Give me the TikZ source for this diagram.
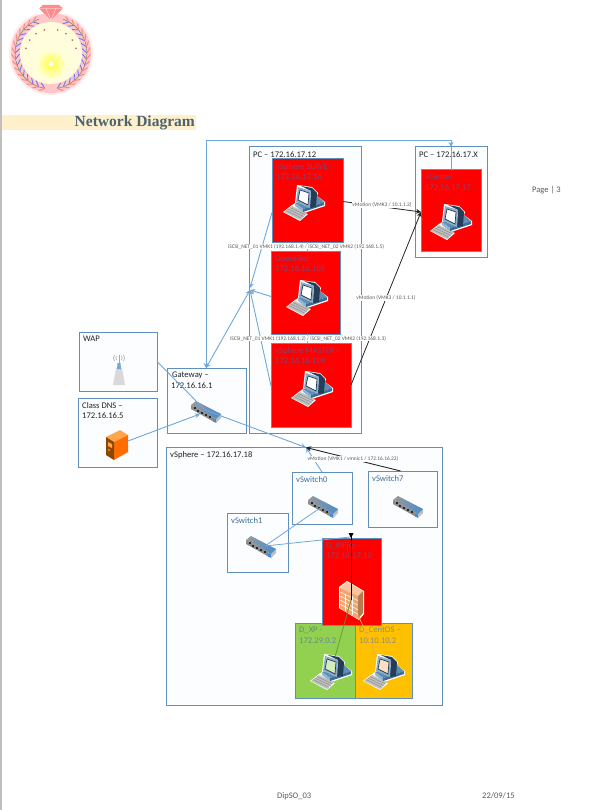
\documentclass[tikz,border=0pt]{standalone}
\usepackage{fontspec}
\setmainfont{Carlito}
\newfontfamily\titlefont{Liberation Serif}
\usetikzlibrary{arrows.meta,shapes.geometric}
\definecolor{edgeblue}{HTML}{5F8FBA}
\definecolor{linkblue}{HTML}{6FA8DC}
\definecolor{boxtext}{HTML}{3F6E9E}
\definecolor{redtext}{HTML}{8A4070}
\definecolor{xptext}{HTML}{5F8F80}
\definecolor{cotext}{HTML}{8F8F6A}
\definecolor{darktext}{HTML}{222222}
\definecolor{titlecol}{HTML}{4A6272}
\definecolor{hilite}{HTML}{FFF0CC}
\definecolor{xpgreen}{HTML}{92D050}
\definecolor{coamber}{HTML}{FFC000}
\definecolor{softfill}{HTML}{FCFDFF}
\definecolor{HTML5}{HTML}{5D8DB5}
\definecolor{HTML6}{HTML}{8FB4D0}
\definecolor{HTML7}{HTML}{3D6C94}
\definecolor{HTML8}{HTML}{243E58}
\definecolor{HTML9}{HTML}{4A8CCB}
\definecolor{HTML10}{HTML}{F2A56C}
\tikzset{
  x=1pt,y=-1pt,
  basebox/.style={draw=edgeblue,line width=1pt,rectangle,inner sep=0pt,outer sep=0pt,anchor=north west},
  whitebox/.style={basebox,fill=softfill},
  redbox/.style={basebox,fill=red},
  greenbox/.style={basebox,fill=xpgreen},
  amberbox/.style={basebox,fill=coamber},
  boxlabel/.style={anchor=north west,inner sep=0pt,align=left,font=\fontsize{8.6}{10.6}\selectfont},
  linklabel/.style={font=\fontsize{5.45}{6}\selectfont,text=black!65,fill=white,inner sep=0.4pt},
  pagetext/.style={font=\fontsize{8.5}{10}\selectfont,text=black!65,inner sep=0pt},
  bluelink/.style={draw=linkblue,line width=0.9pt},
  blacklink/.style={draw=black!85,line width=0.8pt},
  orangelink/.style={draw=orange!80!white,line width=0.6pt},
  tipb/.style={-{Stealth[length=5pt,width=5pt]}},
  tipbb/.style={{Stealth[length=5pt,width=5pt]}-{Stealth[length=5pt,width=5pt]}},
  pics/computer/.style={code={
    \fill[white] (-21,9)--(-12,2)--(-9,0)--(-7,-18)--(8,-16)--(14,-10)--(13,-7)--(21,-1)--(21,3)--(0,10)--(4,11)--(-4,18)--cycle;
    \fill[black!25] (-20,9)--(-12,3)--(3,10)--(-4,17)--cycle;
    \foreach \k in {0.25,0.5,0.75}{\draw[black!50,line width=.35pt] (-20+8*\k,9-6*\k)--(-4+7*\k,17-7*\k);}
    \fill[HTML5] (-9,0)--(-1,6)--(20,-1)--(13,-7)--cycle;
    \fill[HTML6] (-9,0)--(-9,3)--(-1,9)--(-1,6)--cycle;
    \fill[HTML7] (-1,6)--(-1,9)--(20,2)--(20,-1)--cycle;
    \fill[HTML8] (-3,-17)--(8,-15)--(13,-10)--(12,4)--(6,5)--(7,-12)--cycle;
    \fill[HTML5!70!white] (-6,-16)--(7,-12)--(6,5)--(-8,-1)--cycle;
    \fill[#1] (-4,-13)--(5,-10)--(4,2)--(-6,-3)--cycle;
    \draw[HTML8,line width=.7pt] (-4,-13)--(5,-10)--(4,2)--(-6,-3)--cycle;
  }},
  pics/netswitch/.style={code={
    \fill[white] (-16,-7)--(-10,-12)--(16,2)--(16,7)--(10,12)--(-16,-2)--cycle;
    \fill[black!45] (-15,-7)--(10,7)--(10,11)--(-15,-3)--cycle;
    \fill[black!25] (10,7)--(15,2)--(15,6)--(10,11)--cycle;
    \shade[left color=black!40,right color=HTML9] (-15,-7)--(-10,-11)--(15,2)--(10,7)--cycle;
    \foreach \k in {0.1,0.25,0.4,0.55,0.7}{\fill[black!85] (-15+25*\k,-6+14*\k) rectangle ++(2,2);}
    \fill[HTML9] (7,7) rectangle (9.5,10);
  }},
  pics/wapicon/.style={code={
    \fill[black!15] (-3,2)--(3,2)--(6,19)--(-6,19)--cycle;
    \fill[linkblue] (-1.5,-3)--(1.5,-3)--(2,3)--(-2,3)--cycle;
    \draw[black!35,line width=.6pt] (0,-11)--(0,-3);
    \draw[black!35,line width=.6pt] (2.5,-10)--(3.2,-8)--(2.5,-6) (-2.5,-10)--(-3.2,-8)--(-2.5,-6);
    \draw[black!35,line width=.6pt] (4.5,-11)--(5.5,-8)--(4.5,-5) (-4.5,-11)--(-5.5,-8)--(-4.5,-5);
  }},
  pics/servericon/.style={code={
    \fill[white] (-12,-8)--(3,-16)--(12,-10)--(12,7)--(-3,16)--(-12,10)--cycle;
    \fill[orange!70!white] (-11,-8)--(3,-15)--(11,-10)--(-3,-3)--cycle;
    \fill[orange!85!red] (-3,-3)--(11,-10)--(11,7)--(-3,15)--cycle;
    \fill[orange!55!black] (-11,-8)--(-3,-3)--(-3,15)--(-11,10)--cycle;
    \fill[orange!70] (-9,-3)--(-5,-1)--(-5,3)--(-9,1)--cycle;
    \fill[orange!90] (-8,5) circle (1.2);
  }},
  pics/firewallicon/.style={code={
    \fill[white] (-12,-13)--(-4,-19)--(13,-9)--(13,14)--(8,20)--(-12,8)--cycle;
    \fill[HTML10!65!white] (-11,-12)--(-4,-18)--(12,-9)--(7,-4)--cycle;
    \fill[HTML10] (-11,-12)--(7,-4)--(7,19)--(-11,8)--cycle;
    \fill[HTML10!75!black] (7,-4)--(12,-9)--(12,13)--(7,19)--cycle;
    \foreach \k in {0.2,0.4,0.6,0.8}{\draw[white,line width=.5pt] (-11,-12+20*\k)--(7,-4+23*\k);}
    \draw[white,line width=.5pt] (-6,-6)--(-6,11) (1,-4)--(1,15);
  }},
}
\newcommand{\boxnode}[8]{%
  \node[#2,minimum width=#5pt,minimum height=#6pt] (#1) at (#3,#4) {};
  \node[boxlabel,text=#7] (#1text) at (#3+4,#4+4) {#8};
}
\begin{document}
\begin{tikzpicture}
\useasboundingbox (0,0) rectangle (591,810);
\fill[white] (0,0) rectangle (591,810);
\fill[black!25] (0,0) rectangle (1.5,810);

% logo
\fill[red!8!white] (51,53) circle (42);
\fill[red!22!white] (51,53) circle (40);
\fill[yellow!14!white] (51,53) circle (31);
\shade[inner color=yellow!75!white,outer color=yellow!14!white] (51,64) circle (15);
\fill[white] (51,64) circle (2.5);
\foreach \a in {-80,-70,...,60}{
  \draw[xpgreen!70!black,line width=.5pt] ({51+36*cos(\a)},{53+36*sin(-\a)}) -- ({51+36*cos(\a+10)},{53+36*sin(-\a-10)});
  \draw[xpgreen!70!black,line width=.5pt] ({51-36*cos(\a)},{53+36*sin(-\a)}) -- ({51-36*cos(\a+10)},{53+36*sin(-\a-10)});
  \draw[blue!55!white,line width=.9pt] ({51+36*cos(\a)},{53+36*sin(-\a)}) -- ({51+31.5*cos(\a+8)},{53+31.5*sin(-\a-8)});
  \draw[blue!55!white,line width=.9pt] ({51-36*cos(\a)},{53+36*sin(-\a)}) -- ({51-31.5*cos(\a+8)},{53+31.5*sin(-\a-8)});
  \draw[red!50!white,line width=.9pt] ({51+36*cos(\a)},{53+36*sin(-\a)}) -- ({51+39.5*cos(\a+8)},{53+39.5*sin(-\a-8)});
  \draw[red!50!white,line width=.9pt] ({51-36*cos(\a)},{53+36*sin(-\a)}) -- ({51-39.5*cos(\a+8)},{53+39.5*sin(-\a-8)});
}
\foreach \a in {15,35,55,75,105,125,145,165}{
  \fill[red!50!black!60] ({51+26*cos(\a)},{53-26*sin(\a)+2}) circle (.9);
}
\fill[white] (36,14) -- (66,14) -- (66,0) -- (36,0) -- cycle;
\fill[red!45!white] (39,8.5)--(43,5)--(59,5)--(63,8.5)--(51,20)--cycle;
\draw[white,line width=.3pt] (39,8.5)--(63,8.5) (46,8.5)--(51,20)--(56,8.5);

% title band
\fill[hilite] (2,115) rectangle (196,130);
\node[anchor=east,inner sep=0pt,text=titlecol,font=\titlefont\bfseries\fontsize{15.5}{17}\selectfont] (title) at (195,123) {Network Diagram};

% page texts
\node[pagetext,anchor=west] (pagenum) at (532,190) {Page | 3};
\node[pagetext,anchor=west] (docname) at (277,796) {DipSO\_03};
\node[pagetext,anchor=west] (docdate) at (482,796) {22/09/15};

% container boxes
\boxnode{pcmain}{whitebox}{249}{147}{112}{286}{darktext}{PC – 172.16.17.12}
\boxnode{pcx}{whitebox}{415}{147}{72}{110}{darktext}{PC – 172.16.17.X}
\boxnode{vsphere}{whitebox}{166}{447}{276}{258}{darktext}{vSphere – 172.16.17.18}
\boxnode{wap}{whitebox}{79}{332}{78}{59}{darktext}{WAP}
\boxnode{dns}{whitebox}{78}{398}{79}{69}{darktext}{Class DNS –\\172.16.16.5}
\boxnode{gateway}{whitebox}{167}{368}{79}{65}{darktext}{\hspace{1pt}Gateway –\\172.16.16.1}

% host boxes
\boxnode{slave}{redbox}{272}{159}{71}{83}{redtext}{vSphere SLAVE -\\172.16.17.16}
\boxnode{vcenter}{redbox}{421}{170}{60}{81}{redtext}{vCenter\\172.16.17.17}
\boxnode{openfiler}{redbox}{271}{251}{69}{83}{redtext}{OpenFiler\\172.16.16.105}
\boxnode{master}{redbox}{271}{343}{80}{84}{redtext}{vSphere MASTER -\\172.16.16.109}

% vSphere content
\boxnode{vsw0}{whitebox}{292}{472}{60}{52}{boxtext}{vSwitch0}
\boxnode{vsw7}{whitebox}{368}{471}{69}{56}{boxtext}{vSwitch7}
\boxnode{vsw1}{whitebox}{227}{513}{61}{59}{boxtext}{vSwitch1}
\boxnode{dxp}{greenbox}{295}{623}{60}{75}{xptext}{D\_XP -\\172.29.0.2}
\boxnode{dcent}{amberbox}{355}{623}{57}{75}{cotext}{D\_CentOS –\\10.10.10.2}
\boxnode{ipfire}{redbox}{322}{538}{59}{87}{redtext}{D\_IPFire –\\172.16.17.10}

% icons
\path (304,203) pic {computer=white};
\path (451,222) pic {computer=white};
\path (307,298) pic {computer=white};
\path (312,389) pic {computer=white};
\path (331,672) pic {computer=xpgreen!40!white};
\path (384,672) pic {computer=orange!25!white};
\path (206,412) pic {netswitch};
\path (323,507) pic {netswitch};
\path (408,507) pic {netswitch};
\path (261,547) pic {netswitch};
\path (119,366) pic {wapicon};
\path (117,445) pic {servericon};
\path (351,600) pic {firewallicon};

% named connector points
\coordinate (hub) at (250,290);
\coordinate (gwsw) at (205,410);
\coordinate (dnssw) at (200,414);
\coordinate (srvc) at (128,441);
\coordinate (vstop) at (306,447.5);
\coordinate (sw0c) at (320,508);
\coordinate (sw1c) at (265,546);
\coordinate (fwc) at (351,600);
\coordinate (fwlow) at (358,615);
\coordinate (fwtip) at (351,533);
\coordinate (ipf) at (350,537);
\coordinate (xpc) at (335,657);
\coordinate (cec) at (377,657);
\coordinate (vctip) at (421,212);
\coordinate (loopa) at (206,140);
\coordinate (loopb) at (451,140);

% connectors
\draw[bluelink,tipb] (gateway.north -| loopa) -- (loopa) -- (loopb) -- (loopb |- pcx.north);
\draw[bluelink,tipb] (loopa) -- (gateway.north -| loopa);
\draw[bluelink] (vcenter.north -| loopb) -- (loopb |- pcx.north);
\draw[bluelink,tipb] ([yshift=-12pt]slave.west) -- ([yshift=2pt]hub);
\draw[bluelink,tipb] ([yshift=-4pt]openfiler.west) -- (hub);
\draw[bluelink,tipb] ([yshift=-1pt]master.west) -- (hub);
\draw[bluelink,tipbb] (hub) -- (gateway.north -| loopa);
\draw[bluelink] (wap.east) -- (gwsw);
\draw[bluelink,tipb] (srvc) -- (dnssw);
\draw[bluelink,tipb] (gwsw) -- (vstop);
\draw[bluelink,tipb] (vsw0.north) -- (vstop);
\draw[bluelink,line width=.8pt] (sw1c) -- (sw0c);
\draw[bluelink,line width=.8pt] (sw1c) -- (ipf);
\draw[blacklink,tipb] ([yshift=-1pt]slave.east) -- (vctip);
\draw[blacklink,tipb] (master.east) -- (vctip);
\draw[blacklink,line width=.9pt,tipb] ([xshift=-2pt]vsw7.north) -- (vstop);
\draw[black,line width=.8pt] (fwc) -- (fwtip);
\fill[black] (fwtip)++(-2.5,0) -- ++(5,0) -- ++(-2.5,5) -- cycle;
\draw[xpgreen!70!black,line width=.7pt] (fwc) -- (xpc);
\draw[orange!70!white,line width=.7pt] (fwlow) -- (cec);
\draw[orangelink] (slave.south) -- (openfiler.north -| slave.south);
\draw[orangelink] (openfiler.south -| slave.south) -- (master.north -| slave.south);

% link labels
\node[linklabel] (l1) at (306,246.5) {iSCSI\_NET\_01 VMK1 (192.168.1.4) / iSCSI\_NET\_02 VMK2 (192.168.1.5)};
\node[linklabel] (l2) at (308,338.5) {iSCSI\_NET\_01 VMK1 (192.168.1.2) / iSCSI\_NET\_02 VMK2 (192.168.1.3)};
\node[linklabel] (l3) at (382,205) {vMotion (VMK3 / 10.1.1.2)};
\node[linklabel] (l4) at (386,298) {vMotion (VMK3 / 10.1.1.1)};
\node[linklabel] (l5) at (353,459) {vMotion (VMK1 / vmnic1 / 172.16.16.22)};
\end{tikzpicture}
\end{document}
